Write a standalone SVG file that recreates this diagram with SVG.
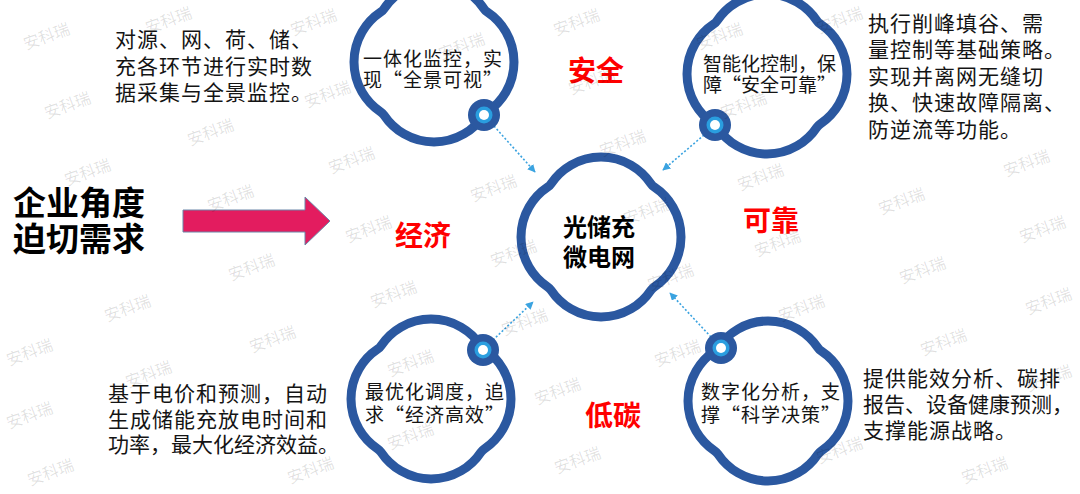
<svg xmlns="http://www.w3.org/2000/svg" width="1080" height="494" viewBox="0 0 1080 494">
<style>
.cloud{fill:#fff;stroke:#2B58A0;stroke-width:9}
.t{font-family:"Noto Sans CJK SC","Liberation Sans",sans-serif;fill:#141414}
.nt{font-size:19px;letter-spacing:1px}
.pa{font-size:21px;letter-spacing:1px}
.tight{letter-spacing:0}
.big{font-size:33px;font-weight:bold;fill:#000}
.ctr{font-size:24px;font-weight:bold;fill:#000}
.red{font-family:"Noto Sans CJK SC","Liberation Sans",sans-serif;font-size:28px;font-weight:bold;fill:#FF0000}
.conn{stroke:#3BA3E0;stroke-width:1.6;stroke-dasharray:2 2;fill:none}
.mk-o{fill:#2B58A0}
.mk-m{fill:#2A9EDF}
.mk-i{fill:#fff}
.wm{font-family:"Noto Sans CJK SC","Liberation Sans",sans-serif;font-size:16px;fill:#000;fill-opacity:0.12}
</style>
<defs>
<path id="cl" d="M53.27,-49.93 A60,60 0 0 1 53.27,49.93 A12,12 0 0 0 49.93,53.27 A60,60 0 0 1 -49.93,53.27 A12,12 0 0 0 -53.27,49.93 A60,60 0 0 1 -53.27,-49.93 A12,12 0 0 0 -49.93,-53.27 A60,60 0 0 1 49.93,-53.27 A12,12 0 0 0 53.27,-49.93 Z"/>
<g id="mk"><circle class="mk-o" r="16"/><circle class="mk-m" r="8.5"/><circle class="mk-i" r="5"/></g>
<marker id="ah" viewBox="0 0 10 10" refX="9" refY="5" markerWidth="8" markerHeight="8" markerUnits="userSpaceOnUse" orient="auto"><path d="M0,0 L10,5 L0,10 z" fill="#3BA3E0"/></marker>
</defs>
<rect width="1080" height="494" fill="#fff"/>

<g id="demand">
<text class="t big"><tspan x="13" y="215">企业角度</tspan><tspan x="13" y="251">迫切需求</tspan></text>
</g>
<g id="big-arrow">
<polygon points="183,210 305,210 305,197 330,221 305,245 305,232 183,232" fill="#E31C5F" stroke="#6A86A8" stroke-width="1"/>
</g>

<g id="connectors">
<line class="conn" x1="494" y1="126" x2="535" y2="172" marker-end="url(#ah)"/>
<line class="conn" x1="704" y1="135" x2="663" y2="170" marker-end="url(#ah)"/>
<line class="conn" x1="493" y1="340" x2="533" y2="302" marker-end="url(#ah)"/>
<line class="conn" x1="711" y1="337" x2="670" y2="293" marker-end="url(#ah)"/>
</g>

<g id="node-monitor">
<use href="#cl" class="cloud" transform="translate(434,62)"/>
<use href="#mk" x="484" y="115"/>
<text class="t nt"><tspan x="363" y="66">一体化监控，实</tspan><tspan x="363" y="87">现“全景可视”</tspan></text>
</g>
<g id="node-control">
<use href="#cl" class="cloud" transform="translate(767,74)"/>
<use href="#mk" x="715" y="125"/>
<text class="t nt tight"><tspan x="703" y="71">智能化控制，保</tspan><tspan x="703" y="92">障“安全可靠”</tspan></text>
</g>
<g id="node-center">
<use href="#cl" class="cloud" transform="translate(601,237)"/>
<text class="t ctr"><tspan x="563" y="236">光储充</tspan><tspan x="563" y="266">微电网</tspan></text>
</g>
<g id="node-dispatch">
<use href="#cl" class="cloud" transform="translate(431,399)"/>
<use href="#mk" x="483" y="350"/>
<text class="t nt"><tspan x="365" y="399">最优化调度，追</tspan><tspan x="365" y="422">求“经济高效”</tspan></text>
</g>
<g id="node-analysis">
<use href="#cl" class="cloud" transform="translate(768,401)"/>
<use href="#mk" x="721" y="348"/>
<text class="t nt"><tspan x="701" y="399">数字化分析，支</tspan><tspan x="701" y="422">撑“科学决策”</tspan></text>
</g>

<g id="labels">
<text class="red" x="568" y="81">安全</text>
<text class="red" x="743" y="231">可靠</text>
<text class="red" x="395" y="246">经济</text>
<text class="red" x="585" y="426">低碳</text>
</g>

<g id="desc-tl">
<text class="t pa"><tspan x="115" y="47">对源、网、荷、储、</tspan><tspan x="115" y="74">充各环节进行实时数</tspan><tspan x="115" y="100">据采集与全景监控。</tspan></text>
</g>
<g id="desc-tr">
<text class="t pa"><tspan x="868" y="31">执行削峰填谷、需</tspan><tspan x="868" y="57">量控制等基础策略。</tspan><tspan x="868" y="84">实现并离网无缝切</tspan><tspan x="868" y="110">换、快速故障隔离、</tspan><tspan x="868" y="137">防逆流等功能。</tspan></text>
</g>
<g id="desc-bl">
<text class="t pa"><tspan x="108" y="401">基于电价和预测，自动</tspan><tspan x="108" y="427">生成储能充放电时间和</tspan><tspan class="tight" x="108" y="452">功率，最大化经济效益。</tspan></text>
</g>
<g id="desc-br">
<text class="t pa"><tspan x="863" y="386">提供能效分析、碳排</tspan><tspan class="tight" x="863" y="412">报告、设备健康预测，</tspan><tspan x="863" y="438">支撑能源战略。</tspan></text>
</g>

<g id="watermarks">
<text class="wm" transform="translate(26,50) rotate(-20)">安科瑞</text>
<text class="wm" transform="translate(47,119) rotate(-20)">安科瑞</text>
<text class="wm" transform="translate(190,146) rotate(-20)">安科瑞</text>
<text class="wm" transform="translate(67,186) rotate(-20)">安科瑞</text>
<text class="wm" transform="translate(148,34) rotate(-20)">安科瑞</text>
<text class="wm" transform="translate(293,36) rotate(-20)">安科瑞</text>
<text class="wm" transform="translate(307,108) rotate(-20)">安科瑞</text>
<text class="wm" transform="translate(331,174) rotate(-20)">安科瑞</text>
<text class="wm" transform="translate(210,212) rotate(-20)">安科瑞</text>
<text class="wm" transform="translate(348,243) rotate(-20)">安科瑞</text>
<text class="wm" transform="translate(473,202) rotate(-20)">安科瑞</text>
<text class="wm" transform="translate(231,281) rotate(-20)">安科瑞</text>
<text class="wm" transform="translate(107,322) rotate(-20)">安科瑞</text>
<text class="wm" transform="translate(373,308) rotate(-20)">安科瑞</text>
<text class="wm" transform="translate(9,366) rotate(-20)">安科瑞</text>
<text class="wm" transform="translate(252,353) rotate(-20)">安科瑞</text>
<text class="wm" transform="translate(128,388) rotate(-20)">安科瑞</text>
<text class="wm" transform="translate(9,429) rotate(-20)">安科瑞</text>
<text class="wm" transform="translate(390,377) rotate(-20)">安科瑞</text>
<text class="wm" transform="translate(290,484) rotate(-20)">安科瑞</text>
<text class="wm" transform="translate(30,486) rotate(-20)">安科瑞</text>
<text class="wm" transform="translate(493,267) rotate(-20)">安科瑞</text>
<text class="wm" transform="translate(504,336) rotate(-20)">安科瑞</text>
<text class="wm" transform="translate(390,450) rotate(-20)">安科瑞</text>
<text class="wm" transform="translate(441,60) rotate(-20)">安科瑞</text>
<text class="wm" transform="translate(556,36) rotate(-20)">安科瑞</text>
<text class="wm" transform="translate(819,34) rotate(-20)">安科瑞</text>
<text class="wm" transform="translate(699,50) rotate(-20)">安科瑞</text>
<text class="wm" transform="translate(571,95) rotate(-20)">安科瑞</text>
<text class="wm" transform="translate(723,119) rotate(-20)">安科瑞</text>
<text class="wm" transform="translate(602,157) rotate(-20)">安科瑞</text>
<text class="wm" transform="translate(740,191) rotate(-20)">安科瑞</text>
<text class="wm" transform="translate(1006,177) rotate(-20)">安科瑞</text>
<text class="wm" transform="translate(881,215) rotate(-20)">安科瑞</text>
<text class="wm" transform="translate(1022,243) rotate(-20)">安科瑞</text>
<text class="wm" transform="translate(626,225) rotate(-20)">安科瑞</text>
<text class="wm" transform="translate(757,257) rotate(-20)">安科瑞</text>
<text class="wm" transform="translate(902,284) rotate(-20)">安科瑞</text>
<text class="wm" transform="translate(1028,315) rotate(-20)">安科瑞</text>
<text class="wm" transform="translate(650,291) rotate(-20)">安科瑞</text>
<text class="wm" transform="translate(781,322) rotate(-20)">安科瑞</text>
<text class="wm" transform="translate(923,356) rotate(-20)">安科瑞</text>
<text class="wm" transform="translate(657,367) rotate(-20)">安科瑞</text>
<text class="wm" transform="translate(537,405) rotate(-20)">安科瑞</text>
<text class="wm" transform="translate(1028,392) rotate(-20)">安科瑞</text>
<text class="wm" transform="translate(557,474) rotate(-20)">安科瑞</text>
<text class="wm" transform="translate(964,484) rotate(-20)">安科瑞</text>
<text class="wm" transform="translate(819,464) rotate(-20)">安科瑞</text>
</g>
</svg>
